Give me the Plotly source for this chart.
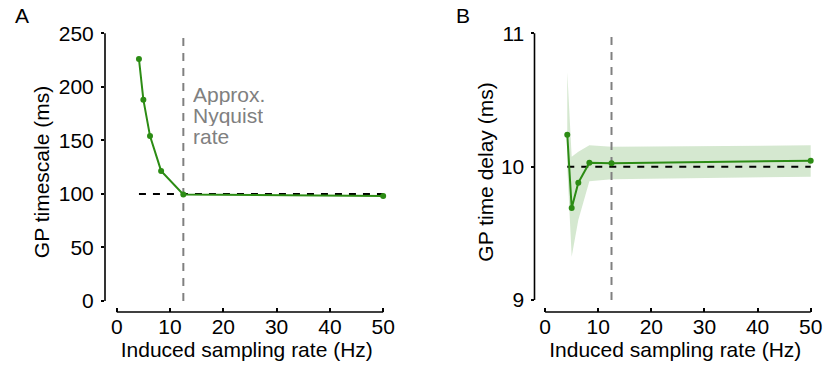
import plotly.graph_objects as go

# ---- data ----
rates = [4.17, 5.0, 6.25, 8.33, 12.5, 50.0]          # induced sampling rate (Hz)
timescale = [226, 188, 154, 121.5, 99.5, 98.1]       # GP timescale (ms)
delay = [10.24, 9.69, 9.88, 10.03, 10.025, 10.045]   # GP time delay (ms)
delay_upper = [10.71, 10.075, 10.112, 10.16, 10.15, 10.16]
delay_lower = [10.0, 9.325, 9.6, 9.89, 9.905, 9.925]
true_timescale = 100
true_delay = 10
nyquist = 12.5
x_ticks = [0, 10, 20, 30, 40, 50]
a_ticks = [0, 50, 100, 150, 200, 250]
b_ticks = [9, 10, 11]

GREEN = "rgb(44,140,20)"
BAND = "rgba(44,140,20,0.2)"
GRAY = "rgb(128,128,128)"
FONT = "Liberation Sans, Arial, sans-serif"
FS = 21

W, H = 827, 371
fig = go.Figure()

def px(v):
    return v / W

def py(v):
    return 1 - v / H

# ---- panel A ----
fig.add_trace(go.Scatter(x=[rates[0], rates[-1]], y=[true_timescale, true_timescale],
                         mode="lines", line=dict(color="black", width=2, dash="7px,7px"),
                         xaxis="x", yaxis="y", showlegend=False, hoverinfo="skip"))
fig.add_trace(go.Scatter(x=[nyquist, nyquist], y=[a_ticks[0], a_ticks[-1] + 1],
                         mode="lines", line=dict(color=GRAY, width=2, dash="8px,7px"),
                         xaxis="x", yaxis="y", showlegend=False, hoverinfo="skip"))
fig.add_trace(go.Scatter(x=rates, y=timescale, mode="lines+markers",
                         line=dict(color=GREEN, width=2), marker=dict(color=GREEN, size=6),
                         xaxis="x", yaxis="y", showlegend=False))

# ---- panel B ----
fig.add_trace(go.Scatter(x=rates + rates[::-1], y=delay_upper + delay_lower[::-1],
                         fill="toself", fillcolor=BAND, line=dict(width=0),
                         mode="lines", xaxis="x2", yaxis="y2", showlegend=False, hoverinfo="skip"))
fig.add_trace(go.Scatter(x=[rates[0], rates[-1]], y=[true_delay, true_delay],
                         mode="lines", line=dict(color="black", width=2, dash="7px,7px"),
                         xaxis="x2", yaxis="y2", showlegend=False, hoverinfo="skip"))
fig.add_trace(go.Scatter(x=[nyquist, nyquist], y=[b_ticks[0], b_ticks[-1]],
                         mode="lines", line=dict(color=GRAY, width=2, dash="8px,7px"),
                         xaxis="x2", yaxis="y2", showlegend=False, hoverinfo="skip"))
fig.add_trace(go.Scatter(x=rates, y=delay, mode="lines+markers",
                         line=dict(color=GREEN, width=2), marker=dict(color=GREEN, size=6),
                         xaxis="x2", yaxis="y2", showlegend=False))

ydom = [py(312), py(32)]
common_x = dict(tickmode="array", tickvals=x_ticks, ticks="inside", ticklen=4,
                tickcolor="black", tickwidth=1.5, showline=False, showgrid=False,
                zeroline=False, automargin=False,
                tickfont=dict(family=FONT, size=FS, color="black"),
                title=dict(text="Induced sampling rate (Hz)", standoff=2,
                           font=dict(family=FONT, size=FS, color="black")))
common_y = dict(ticks="outside", ticklen=3, tickcolor="black", tickwidth=1.5,
                showline=False, showgrid=False, zeroline=False, automargin=False,
                tickfont=dict(family=FONT, size=FS, color="black"))

fig.update_layout(
    width=W, height=H, margin=dict(l=0, r=0, t=0, b=0, autoexpand=False),
    plot_bgcolor="white", paper_bgcolor="white",
    xaxis=dict(domain=[px(105), px(388.5)], range=[-2.2, 51.0], anchor="y", **common_x),
    yaxis=dict(domain=ydom, range=[-10.27, 251.2], anchor="x", tickmode="array",
               tickvals=a_ticks, ticklabelstandoff=3,
               title=dict(text="GP timescale (ms)", standoff=3,
                          font=dict(family=FONT, size=FS, color="black")), **common_y),
    xaxis2=dict(domain=[px(534.5), px(816.0)], range=[-2.0, 51.0], anchor="y2", **common_x),
    yaxis2=dict(domain=ydom, range=[8.91, 11.01], anchor="x2", tickmode="array",
                tickvals=b_ticks, ticklabelstandoff=2,
                title=dict(text="GP time delay (ms)", standoff=1,
                           font=dict(family=FONT, size=FS, color="black")), **common_y),
)

# spines (offset style)
spine = dict(color="black", width=1.6)
fig.add_shape(type="line", xref="x domain", yref="y", x0=0, x1=0, y0=a_ticks[0], y1=a_ticks[-1], line=spine)
fig.add_shape(type="line", xref="x", yref="y domain", x0=x_ticks[0], x1=x_ticks[-1], y0=0, y1=0, line=spine)
fig.add_shape(type="line", xref="x2 domain", yref="y2", x0=0, x1=0, y0=b_ticks[0], y1=b_ticks[-1], line=spine)
fig.add_shape(type="line", xref="x2", yref="y2 domain", x0=x_ticks[0], x1=x_ticks[-1], y0=0, y1=0, line=spine)

# Nyquist text
for i, t in enumerate(["Approx.", "Nyquist", "rate"]):
    fig.add_annotation(x=13.9, y=192.5 - i * 19.4, xref="x", yref="y", text=t, showarrow=False,
                       xanchor="left", yanchor="middle", height=21,
                       font=dict(family=FONT, size=FS, color=GRAY))

# panel labels
fig.add_annotation(x=px(13), y=py(2), xref="paper", yref="paper", text="A", showarrow=False,
                   xanchor="left", yanchor="top", font=dict(family=FONT, size=FS, color="black"))
fig.add_annotation(x=px(454), y=py(2), xref="paper", yref="paper", text="B", showarrow=False,
                   xanchor="left", yanchor="top", font=dict(family=FONT, size=FS, color="black"))

fig.write_html("out.html")
